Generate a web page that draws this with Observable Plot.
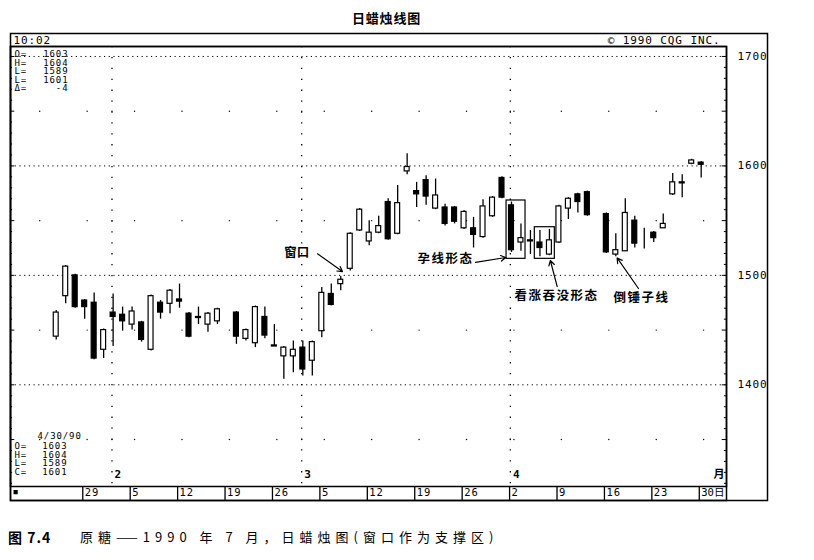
<!DOCTYPE html>
<html>
<head>
<meta charset="utf-8">
<script src="https://cdn.jsdelivr.net/npm/d3@7"></script>
<script src="https://cdn.jsdelivr.net/npm/@observablehq/plot@0.6"></script>
<style>
  html, body { margin: 0; padding: 0; background: #fff; }
  body { width: 814px; height: 560px; position: relative; overflow: hidden; }
  #chart { position: absolute; left: 0; top: 0; }
  #title { position: absolute; left: 352px; top: 8px; font: bold 13px "Noto Sans CJK SC", sans-serif; letter-spacing: 0.8px; color: #000; }
  #caption { position: absolute; left: 8px; top: 527px; font: 13px "Noto Sans CJK SC", sans-serif; color: #000; white-space: nowrap; }
  #caption .fig { font-weight: bold; font-size: 14px; letter-spacing: 1px; }
  #caption .txt { position: absolute; left: 72px; top: 0; letter-spacing: 5px; }
</style>
</head>
<body>
<div id="chart"></div>
<div id="title"></div>
<div id="caption"></div>
<script>
// ---------- data ----------
const titleText = "日蜡烛线图";
const captionFig = "图 7.4";
const captionText = "原糖——1990 年 7 月，日蜡烛图(窗口作为支撑区)";

const dates = [
  "1990-01-24","1990-01-25","1990-01-26","1990-01-29","1990-01-30","1990-01-31",
  "1990-02-01","1990-02-02","1990-02-05","1990-02-06","1990-02-07","1990-02-08","1990-02-09",
  "1990-02-12","1990-02-13","1990-02-14","1990-02-15","1990-02-16",
  "1990-02-20","1990-02-21","1990-02-22","1990-02-23",
  "1990-02-26","1990-02-27","1990-02-28","1990-03-01","1990-03-02",
  "1990-03-05","1990-03-06","1990-03-07","1990-03-08","1990-03-09",
  "1990-03-12","1990-03-13","1990-03-14","1990-03-15","1990-03-16",
  "1990-03-19","1990-03-20","1990-03-21","1990-03-22","1990-03-23",
  "1990-03-26","1990-03-27","1990-03-28","1990-03-29","1990-03-30",
  "1990-04-02","1990-04-03","1990-04-04","1990-04-05","1990-04-06",
  "1990-04-09","1990-04-10","1990-04-11","1990-04-12",
  "1990-04-16","1990-04-17","1990-04-18","1990-04-19","1990-04-20",
  "1990-04-23","1990-04-24","1990-04-25","1990-04-26","1990-04-27",
  "1990-04-30"
];
const opens = [1444,1481,1500,1477,1475,1432,1466,1464,1455,1457,1432,1475,1474,1478,1465,1462,1455,1458,
  1466,1442,1438,1462,1436,1426,1426,1434,1422,1449,1483,1492,1506,1541,1531,1539,1567,1538,1595,1577,1587,1561,
  1562,1562,1543,1543,1535,1554,1589,1564,1530,1532,1530,1519,1530,1561,1574,1576,1556,1519,1522,1550,1538,1539,
  1543,1574,1585,1602,1603];
const highs = [1468,1509,1501,1478,1484,1451,1483,1471,1471,1458,1482,1477,1487,1492,1466,1471,1466,1470,
  1467,1451,1472,1471,1455,1435,1440,1440,1440,1489,1492,1499,1539,1561,1550,1554,1570,1582,1611,1585,1591,1588,
  1565,1563,1559,1553,1569,1572,1590,1567,1547,1541,1541,1542,1564,1571,1575,1577,1557,1538,1570,1554,1543,1540,
  1556,1593,1592,1606,1604];
const lows = [1441,1474,1470,1460,1423,1424,1435,1449,1450,1439,1431,1460,1465,1470,1443,1455,1448,1455,
  1437,1440,1434,1442,1435,1405,1411,1408,1408,1443,1472,1486,1504,1540,1527,1538,1532,1537,1592,1562,1564,1560,
  1545,1547,1542,1525,1534,1553,1570,1521,1522,1519,1517,1518,1529,1551,1557,1554,1520,1517,1522,1525,1524,1530,
  1543,1573,1571,1601,1589];
const closes = [1466,1508,1471,1471,1424,1450,1462,1458,1467,1441,1481,1466,1486,1476,1444,1461,1465,1469,
  1444,1450,1471,1445,1435,1434,1432,1414,1439,1484,1473,1496,1538,1560,1539,1545,1533,1566,1599,1574,1572,1573,
  1547,1549,1558,1537,1563,1571,1571,1523,1534,1531,1525,1532,1563,1570,1567,1555,1521,1523,1557,1529,1538,1534,
  1547,1585,1584,1605,1601];

const weekTickDates = ["1990-01-29","1990-02-05","1990-02-12","1990-02-19","1990-02-26","1990-03-05","1990-03-12",
  "1990-03-19","1990-03-26","1990-04-02","1990-04-09","1990-04-16","1990-04-23","1990-04-30"];
const weekTickLabels = ["29","5","12","19","26","5","12","19","26","2","9","16","23","30日"];
const monthDates = ["1990-02-01","1990-03-01","1990-04-02"];
const monthLabels = ["2","3","4"];
const monthUnit = "月";
const priceTicks = [1400,1500,1600,1700];
const halfTicks = [1350,1450,1550,1650];

const headerLeft = "10:02";
const headerRight = "© 1990 CQG INC.";
const topInfoLabels = ["O=","H=","L=","L=","Δ="];
const topInfoValues = ["1603","1604","1589","1601","-4"];
const bottomInfoDate = "4/30/90";
const bottomInfoLabels = ["O=","H=","L=","C="];
const bottomInfoValues = ["1603","1604","1589","1601"];

// annotation positions (slot, price)
const annoLabels = ["窗口","孕线形态","看涨吞没形态","倒锤子线"];
const annoSlots  = [25.35, 41.05, 52.75, 61.7];
const annoPrices = [1520, 1514.5, 1481.6, 1478.9];
const arrowFrom = [[27.55,1519.7],[44.2,1511.8],[52.82,1489.8],[61.39,1488]];
const arrowTo   = [[30.18,1503.5],[47.4,1516.3],[52.1,1513.6],[59.14,1515.9]];
const boxSlots  = [[47.48,49.48],[50.46,52.57]];
const boxPrices = [[1515.1,1568.4],[1515.1,1544]];

// ---------- derived ----------
const base = Date.UTC(1990, 0, 22); // a Monday
const slotOf = s => { const d = Math.round((Date.parse(s) - base) / 864e5); return 5 * Math.floor(d / 7) + (d % 7) - 2; };

const candles = dates.map((d, i) => ({s: slotOf(d), open: opens[i], high: highs[i], low: lows[i], close: closes[i]}));
const xDomain = [-4.82, 70.67];
const yDomain = [1307.1, 1709.1];

const weekSlots = weekTickDates.map(slotOf);
const tickPos = weekSlots.map(s => +(s - 0.2).toFixed(3));
const tickLabelMap = new Map(tickPos.map((p, i) => [p, weekTickLabels[i]]));
const monthSlots = monthDates.map(slotOf);
const monthData = monthSlots.map((s, i) => ({s, label: monthLabels[i]}));

const minorX = [weekSlots[0] - 5, ...weekSlots].map(s => s + 0.26).concat(monthSlots.map(s => s - 0.12));
const minorDots = [];
halfTicks.forEach(p => minorX.forEach(s => minorDots.push({s, p})));

const edgeTicks = d3.range(1310, 1710, 10);
const tickLen = v => (v % 50 === 0 ? 0.45 : 0.22);

const annos = annoLabels.map((label, i) => ({label, s: annoSlots[i], p: annoPrices[i]}));
const arrows = arrowFrom.map((f, i) => ({s1: f[0], p1: f[1], s2: arrowTo[i][0], p2: arrowTo[i][1]}));
const boxes = boxSlots.map((b, i) => ({s1: b[0], s2: b[1], p1: boxPrices[i][0], p2: boxPrices[i][1]}));

const mono = "'DejaVu Sans Mono','Noto Sans CJK SC',monospace";
const cjk = "'Noto Sans CJK SC',sans-serif";
const infoSize = 9;

const chart = Plot.plot({
  width: 814,
  height: 510,
  marginTop: 46,
  marginLeft: 10,
  marginRight: 88,
  marginBottom: 24,
  x: {domain: xDomain, axis: null},
  y: {domain: yDomain, axis: null},
  style: {fontFamily: mono, fontSize: "10.5px", color: "#000", background: "#fff", overflow: "visible"},
  marks: [
    // grid
    Plot.ruleY(priceTicks, {stroke: "#000", strokeWidth: 1, strokeDasharray: "1.2,3.5"}),
    Plot.dot(minorDots, {x: "s", y: "p", r: 0.7, fill: "#000", stroke: null}),
    Plot.ruleX(monthSlots, {x: d => d - 0.12, stroke: "#000", strokeWidth: 1.3, strokeDasharray: "1.3,9.6"}),
    // edge ticks
    Plot.ruleY(edgeTicks, {y: d => d, x1: d => xDomain[1] - tickLen(d), x2: xDomain[1], stroke: "#000", strokeWidth: 1}),
    Plot.ruleY(edgeTicks, {y: d => d, x1: xDomain[0], x2: d => xDomain[0] + tickLen(d), stroke: "#000", strokeWidth: 1}),
    // candles
    Plot.ruleX(candles, {x: "s", y1: "low", y2: "high", stroke: "#000", strokeWidth: 1.3}),
    Plot.rect(candles, {
      x1: d => d.s - 0.26, x2: d => d.s + 0.26, y1: "open", y2: "close",
      fill: d => (d.close >= d.open ? "#fff" : "#000"), stroke: "#000", strokeWidth: 1.2
    }),
    // annotations
    Plot.rect(boxes, {x1: "s1", x2: "s2", y1: "p1", y2: "p2", fill: "none", stroke: "#000", strokeWidth: 1.2}),
    Plot.arrow(arrows, {x1: "s1", y1: "p1", x2: "s2", y2: "p2", stroke: "#000", strokeWidth: 1.2, headLength: 7}),
    Plot.text(annos, {x: "s", y: "p", text: "label", fontFamily: cjk, fontWeight: "bold", fontSize: 12.5, fill: "#000"}),
    // frames
    Plot.frame({stroke: "#000", strokeWidth: 1.5}),
    Plot.frame({stroke: "#000", strokeWidth: 1.5, insetBottom: -14}),
    Plot.frame({stroke: "#000", strokeWidth: 1.5, insetTop: -13, insetBottom: -14, insetRight: -41}),
    // right axis labels
    Plot.axisY(priceTicks, {anchor: "right", tickSize: 0, tickPadding: 11, label: null, tickFormat: d => String(d), fontSize: 11}),
    // bottom strip (week ticks)
    Plot.axisX(tickPos, {anchor: "bottom", tickSize: 14, tickFormat: () => "", label: null, strokeWidth: 1.3}),
    Plot.axisX(tickPos, {anchor: "bottom", tickSize: 0, tickPadding: 2, tickFormat: d => tickLabelMap.get(d), textAnchor: "start", dx: 2, label: null, fontSize: 10.5}),
    Plot.text(["■"], {frameAnchor: "bottom-left", dx: 3, dy: 7, textAnchor: "start", fontSize: 7}),
    // month labels
    Plot.text(monthData, {x: "s", frameAnchor: "bottom", text: "label", textAnchor: "start", dx: 1.5, dy: -9, fontWeight: "bold", fontSize: 11}),
    Plot.text([monthUnit], {frameAnchor: "bottom-right", dx: -2, dy: -9, textAnchor: "end", fontWeight: "bold", fontSize: 11, fontFamily: cjk}),
    // header
    Plot.text([headerLeft], {frameAnchor: "top-left", dx: 3, dy: -2.5, textAnchor: "start", lineAnchor: "bottom", fontSize: 11}),
    Plot.text([headerRight], {frameAnchor: "top-right", dx: -6, dy: -2.5, textAnchor: "end", lineAnchor: "bottom", fontSize: 11}),
    // info blocks
    Plot.text([topInfoLabels.join("\n")], {frameAnchor: "top-left", dx: 4, dy: 4.5, textAnchor: "start", lineAnchor: "top", lineHeight: 0.95, fontSize: infoSize}),
    Plot.text([topInfoValues.join("\n")], {frameAnchor: "top-left", dx: 58, dy: 4.5, textAnchor: "end", lineAnchor: "top", lineHeight: 0.95, fontSize: infoSize}),
    Plot.text([bottomInfoDate], {frameAnchor: "bottom-left", dx: 27, dy: -47.5, textAnchor: "start", lineAnchor: "bottom", fontSize: infoSize}),
    Plot.text([bottomInfoLabels.join("\n")], {frameAnchor: "bottom-left", dx: 4, dy: -11.5, textAnchor: "start", lineAnchor: "bottom", lineHeight: 0.97, fontSize: infoSize}),
    Plot.text([bottomInfoValues.join("\n")], {frameAnchor: "bottom-left", dx: 57, dy: -11.5, textAnchor: "end", lineAnchor: "bottom", lineHeight: 0.97, fontSize: infoSize})
  ]
});

document.getElementById("chart").append(chart);
// letter spacing tweaks
d3.select(chart).selectAll("text").each(function () {
  const txt = this.textContent;
  const cjkText = /[\u4e00-\u9fff]/.test(txt);
  if (cjkText && txt.length > 2 && !/\d/.test(txt)) this.style.letterSpacing = "1.5px";
  else if (!cjkText && +this.getAttribute("font-size") === infoSize) this.style.letterSpacing = "1.5px";
  else if (!cjkText) this.style.letterSpacing = "0.9px";
});

document.getElementById("title").textContent = titleText;
const cap = document.getElementById("caption");
const f = document.createElement("span"); f.className = "fig"; f.textContent = captionFig;
const t = document.createElement("span"); t.className = "txt"; t.textContent = captionText;
cap.append(f, t);
</script>
</body>
</html>
